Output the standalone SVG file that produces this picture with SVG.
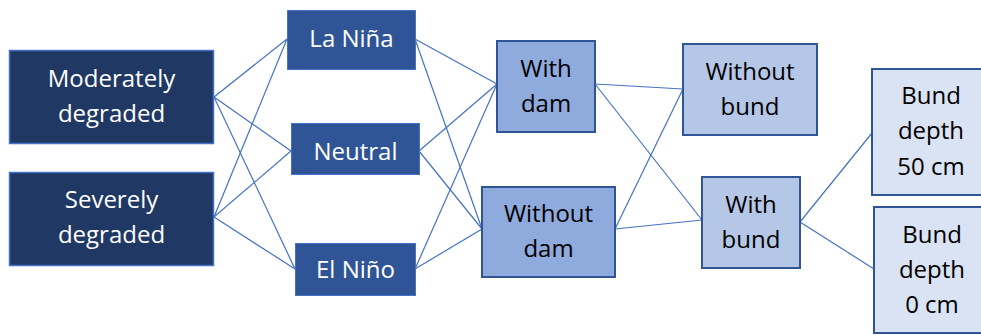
<svg xmlns="http://www.w3.org/2000/svg" width="981" height="335" viewBox="0 0 981 335">
<style>
text{font-family:"Open Sans","Noto Sans",sans-serif;font-size:24px;text-anchor:middle}
.l1 rect{fill:#203864;stroke:#4472C4;stroke-width:1.5}
.l2 rect{fill:#2F5597;stroke:#4472C4;stroke-width:1}
.l3 rect{fill:#8FAADC;stroke:#2F5597;stroke-width:2}
.l4 rect{fill:#B4C7E7;stroke:#2F5597;stroke-width:2}
.l5 rect{fill:#DAE3F3;stroke:#2F5597;stroke-width:2}
.w text{fill:#fff}
.k text{fill:#000}
#edges line{stroke:#4472C4;stroke-width:1.2}
</style>
<rect width="981" height="335" fill="#fff"/>
<g id="edges">
<line x1="214" y1="97" x2="287" y2="39"/>
<line x1="214" y1="97" x2="291" y2="151"/>
<line x1="214" y1="97" x2="295" y2="269"/>
<line x1="214" y1="217" x2="287" y2="39"/>
<line x1="214" y1="217" x2="291" y2="151"/>
<line x1="214" y1="217" x2="295" y2="269"/>
<line x1="415" y1="39" x2="497" y2="84"/>
<line x1="415" y1="39" x2="482" y2="229"/>
<line x1="419" y1="151" x2="497" y2="84"/>
<line x1="419" y1="151" x2="482" y2="229"/>
<line x1="415" y1="269" x2="497" y2="84"/>
<line x1="415" y1="269" x2="482" y2="229"/>
<line x1="595" y1="84" x2="683" y2="89"/>
<line x1="595" y1="84" x2="702" y2="220"/>
<line x1="615" y1="229" x2="683" y2="89"/>
<line x1="615" y1="229" x2="702" y2="220"/>
<line x1="800" y1="222" x2="872" y2="133"/>
<line x1="800" y1="222" x2="874" y2="269"/>
</g>
<g id="moderately" class="l1 w"><rect x="9.5" y="50.5" width="204" height="93"/><text x="111.5" y="87">Moderately</text><text x="111.5" y="122">degraded</text></g>
<g id="severely" class="l1 w"><rect x="9.5" y="172.5" width="204" height="93"/><text x="111.5" y="208">Severely</text><text x="111.5" y="243">degraded</text></g>
<g id="lanina" class="l2 w"><rect x="287.5" y="10.5" width="128" height="59"/><text x="351.5" y="47">La Niña</text></g>
<g id="neutral" class="l2 w"><rect x="291.5" y="123.5" width="128" height="51"/><text x="355.5" y="160">Neutral</text></g>
<g id="elnino" class="l2 w"><rect x="295.5" y="243.5" width="120" height="52"/><text x="355.5" y="278">El Niño</text></g>
<g id="withdam" class="l3 k"><rect x="497" y="41" width="98" height="91"/><text x="546" y="77">With</text><text x="546" y="112">dam</text></g>
<g id="withoutdam" class="l3 k"><rect x="482" y="187" width="133" height="90"/><text x="548.5" y="222">Without</text><text x="548.5" y="257">dam</text></g>
<g id="withoutbund" class="l4 k"><rect x="683" y="44" width="134" height="91"/><text x="750" y="80">Without</text><text x="750" y="115">bund</text></g>
<g id="withbund" class="l4 k"><rect x="702" y="177" width="98" height="91"/><text x="751" y="213">With</text><text x="751" y="248">bund</text></g>
<g id="depth50" class="l5 k"><rect x="872" y="69" width="115" height="126"/><text x="931" y="104">Bund</text><text x="931" y="139">depth</text><text x="931" y="175">50 cm</text></g>
<g id="depth0" class="l5 k"><rect x="874" y="207" width="115" height="126"/><text x="932" y="243">Bund</text><text x="932" y="278">depth</text><text x="932" y="313">0 cm</text></g>
</svg>
